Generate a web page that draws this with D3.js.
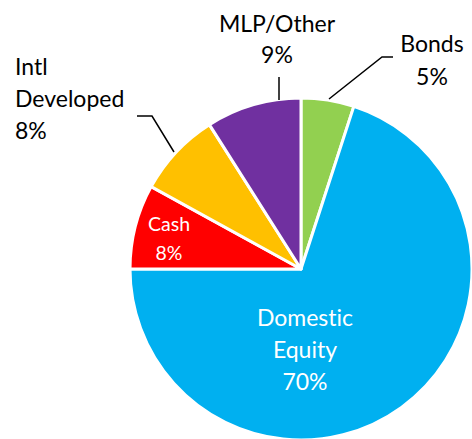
<!DOCTYPE html>
<html>
<head>
<meta charset="utf-8">
<script src="https://cdn.jsdelivr.net/npm/d3@7"></script>
<style>
  body { margin: 0; background: #fff; }
  svg { display: block; font-family: Lato, "Open Sans", sans-serif; font-variant-ligatures: none; }
</style>
</head>
<body>
<div id="chart"></div>
<script>
(function() {
    const width = 472;
    const height = 439;

    // data, clockwise from 12 o'clock
    const categories = ["Bonds", "Domestic Equity", "Cash", "Intl Developed", "MLP/Other"];
    const shares = [5, 70, 8, 8, 9];
    const colors = ["#92D050", "#00B0F0", "#FF0000", "#FFC000", "#7030A0"];
    const labelLines = [["Bonds", "5%"], ["Domestic", "Equity", "70%"], ["Cash", "8%"], ["Intl", "Developed", "8%"], ["MLP/Other", "9%"]];

    const cx = 301, cy = 269, radius = 171;

    const data = categories.map((c, i) => ({ name: c, value: shares[i], color: colors[i], lines: labelLines[i] }));

    const svg = d3.select("#chart").append("svg")
        .attr("width", width).attr("height", height);

    const g = svg.append("g").attr("transform", `translate(${cx},${cy})`);

    const pie = d3.pie().value(d => d.value).sort(null);
    const arc = d3.arc().innerRadius(0).outerRadius(radius);
    const arcs = pie(data);

    g.selectAll("path.slice")
        .data(arcs)
        .join("path")
        .attr("class", "slice")
        .attr("d", arc)
        .attr("fill", d => d.data.color)
        .attr("stroke", "#fff")
        .attr("stroke-width", 3)
        .attr("stroke-linejoin", "round");

    // label placement (relative to centre) + leader lines
    const labelPos = {
        "Bonds": { x: 131, y: -217, lh: 33, size: 23, anchor: "middle", color: "#000" },
        "Domestic Equity": { x: 4, y: 57, lh: 32, size: 23, anchor: "middle", color: "#fff" },
        "Cash": { x: -132, y: -38, lh: 29, size: 19.5, anchor: "middle", color: "#fff" },
        "Intl Developed": { x: -286, y: -194, lh: 32, size: 23, anchor: "start", color: "#000" },
        "MLP/Other": { x: -24, y: -237, lh: 31, size: 23, anchor: "middle", color: "#000" }
    };
    const leaders = {
        "Bonds": [[92, -212], [81, -212], [28, -170]],
        "Intl Developed": [[-164, -153], [-149, -153], [-127, -117]],
        "MLP/Other": [[-22, -192], [-22, -169]]
    };

    g.selectAll("path.leader")
        .data(arcs.filter(d => leaders[d.data.name]))
        .join("path")
        .attr("class", "leader")
        .attr("d", d => d3.line()(leaders[d.data.name]))
        .attr("fill", "none")
        .attr("stroke", "#000")
        .attr("stroke-width", 1.5);

    g.selectAll("text.label")
        .data(arcs)
        .join("text")
        .attr("class", "label")
        .attr("text-anchor", d => labelPos[d.data.name].anchor)
        .attr("fill", d => labelPos[d.data.name].color)
        .attr("font-size", d => labelPos[d.data.name].size)
        .each(function(d) {
            const p = labelPos[d.data.name];
            d3.select(this).selectAll("tspan")
                .data(d.data.lines)
                .join("tspan")
                .attr("x", p.x)
                .attr("y", (t, i) => p.y + i * p.lh)
                .text(t => t);
        });
})();
</script>
</body>
</html>
